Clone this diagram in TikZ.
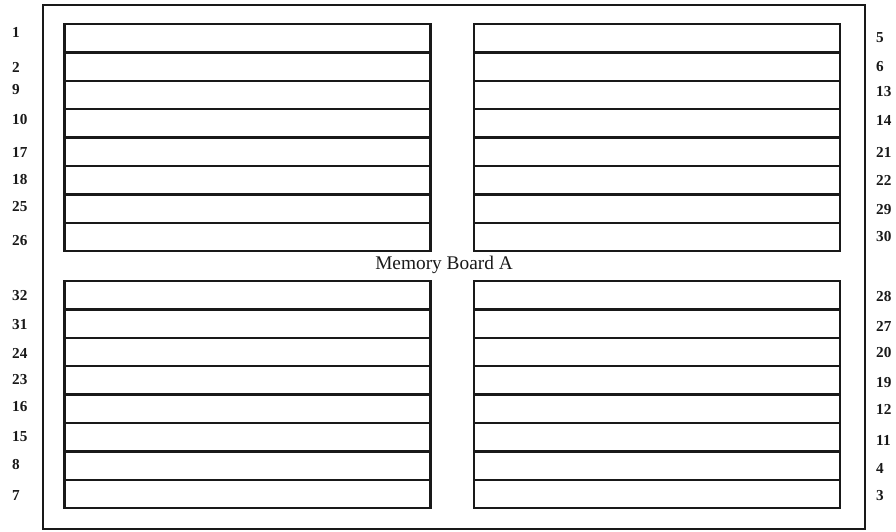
\documentclass[tikz,border=0pt]{standalone}
\usepackage{fontspec}
\setmainfont{Liberation Serif}
\usepackage{tikz}
\usetikzlibrary{positioning}
\definecolor{ink}{RGB}{25,25,25}
\tikzset{
  board/.style={draw=ink,line width=2.1pt,minimum width=24.66cm,minimum height=15.72cm,inner sep=0pt},
  slot/.style={draw=ink,line width=2.1pt,minimum width=10.98cm,minimum height=0.852cm,inner sep=0pt},
  num/.style={font=\fontsize{13}{15}\selectfont\bfseries,text=ink,inner sep=0pt,anchor=west},
  title/.style={font=\fontsize{16.5}{18}\selectfont,text=ink,inner sep=0pt},
}

\begin{document}
\begin{tikzpicture}[x=0.03cm,y=-0.03cm]
  \useasboundingbox (0,0) rectangle (896,531);
  \node[board] (brd) at (454,267) {};
  % slots, top half
  \foreach \n [count=\i from 0] in {1,2,9,10,17,18,25,26}
    \node[slot] (s\n) at (247.5,{38.2+28.4*\i}) {};
  \foreach \n [count=\i from 0] in {5,6,13,14,21,22,29,30}
    \node[slot] (s\n) at (657,{38.2+28.4*\i}) {};
  % slots, bottom half
  \foreach \n [count=\i from 0] in {32,31,24,23,16,15,8,7}
    \node[slot] (s\n) at (247.5,{295.2+28.4*\i}) {};
  \foreach \n [count=\i from 0] in {28,27,20,19,12,11,4,3}
    \node[slot] (s\n) at (657,{295.2+28.4*\i}) {};
  \node[title] (mba) at (444,265) {Memory Board A};
  % slot numbers
  \foreach \n/\y in {1/32,2/67,9/90,10/120,17/152,18/180,25/207,26/241,
    32/296,31/325,24/353,23/380,16/407,15/437,8/465,7/496}
    \node[num] (l\n) at (12,\y) {\n};
  \foreach \n/\y in {5/38,6/67,13/92,14/120,21/152,22/180,29/210,30/237,
    28/297,27/326,20/353,19/383,12/409,11/440,4/468,3/496}
    \node[num] (r\n) at (876,\y) {\n};
\end{tikzpicture}
\end{document}
